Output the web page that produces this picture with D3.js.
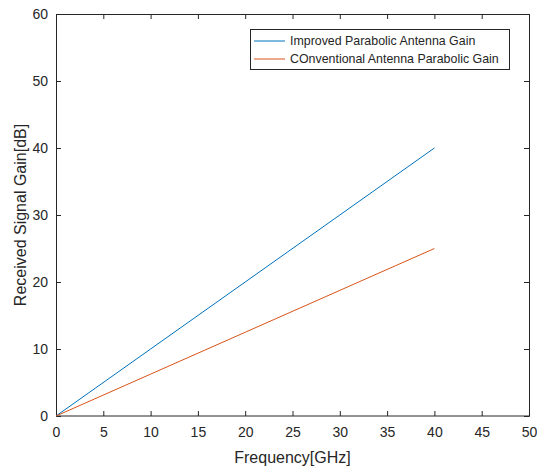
<!DOCTYPE html>
<html>
<head>
<meta charset="utf-8">
<script src="https://cdn.jsdelivr.net/npm/d3@7"></script>
<style>
  body { margin: 0; background: #fff; }
  svg text { font-family: Arial, "Liberation Sans", sans-serif; fill: #262626; }
</style>
</head>
<body>
<div id="chart"></div>
<script>
// data
var frequency = [0, 10, 20, 30, 40];
var improvedGain = [0, 10, 20, 30, 40];
var conventionalGain = [0, 6.25, 12.5, 18.75, 25];
var seriesNames = ["Improved Parabolic Antenna Gain", "COnventional Antenna Parabolic Gain"];
var xTicks = [0, 5, 10, 15, 20, 25, 30, 35, 40, 45, 50];
var yTicks = [0, 10, 20, 30, 40, 50, 60];

var margin = { top: 14, right: 8, bottom: 51, left: 56 },
  width = 537 - margin.left - margin.right,
  height = 467 - margin.top - margin.bottom;

var svg = d3.select("#chart")
  .append("svg")
  .attr("width", 537)
  .attr("height", 467)
  .append("g")
  .attr("transform", "translate(" + margin.left + "," + margin.top + ")");

var x = d3.scaleLinear().domain([0, 50]).range([0, width]);
var y = d3.scaleLinear().domain([0, 60]).range([height, 0]);

var axisColor = "#262626";

// bottom axis
var gx = svg.append("g")
  .attr("transform", "translate(0," + height + ")")
  .call(d3.axisBottom(x).tickValues(xTicks).tickSize(-5).tickPadding(11));
// left axis
var gy = svg.append("g")
  .call(d3.axisLeft(y).tickValues(yTicks).tickSize(-5).tickPadding(8));
// top / right ticks (box)
var gt = svg.append("g")
  .call(d3.axisTop(x).tickValues(xTicks).tickSize(-5).tickFormat(""));
var gr = svg.append("g")
  .attr("transform", "translate(" + width + ",0)")
  .call(d3.axisRight(y).tickValues(yTicks).tickSize(-5).tickFormat(""));

[gx, gy, gt, gr].forEach(function (g) {
  g.selectAll("path").attr("stroke", axisColor).attr("stroke-width", 1);
  g.selectAll("line").attr("stroke", axisColor);
  g.selectAll("text").style("font-size", "14px").style("fill", axisColor);
});
gx.select(".domain").attr("d", "M0.5,0H" + width);
gt.select(".domain").attr("d", "M0.5,0.5H" + width);

// lines
var line = d3.line()
  .x(function (d, i) { return x(frequency[i]); })
  .y(function (d) { return y(d); });

var colors = ["#0072BD", "#D95319"];
[improvedGain, conventionalGain].forEach(function (s, i) {
  svg.append("path")
    .datum(s)
    .attr("fill", "none")
    .attr("stroke", colors[i])
    .attr("stroke-width", 1)
    .attr("d", line);
});

// axis labels
svg.append("text")
  .attr("x", width / 2)
  .attr("y", height + 47)
  .style("text-anchor", "middle")
  .style("font-size", "16px")
  .text("Frequency[GHz]");

svg.append("text")
  .attr("transform", "rotate(-90)")
  .attr("x", -height / 2)
  .attr("y", -30)
  .style("text-anchor", "middle")
  .style("font-size", "16px")
  .text("Received Signal Gain[dB]");

// legend
var lg = svg.append("g").attr("transform", "translate(" + (250 - margin.left) + "," + (29 - margin.top) + ")");
lg.append("rect")
  .attr("x", 0.5).attr("y", 0.5)
  .attr("width", 259).attr("height", 40)
  .attr("fill", "#fff")
  .attr("stroke", axisColor);
seriesNames.forEach(function (name, i) {
  var yy = 12 + i * 18;
  lg.append("line")
    .attr("x1", 4).attr("x2", 35)
    .attr("y1", yy).attr("y2", yy)
    .attr("stroke", colors[i]);
  lg.append("text")
    .attr("x", 40).attr("y", yy + 4)
    .style("font-size", "12.4px")
    .text(name);
});
</script>
</body>
</html>
